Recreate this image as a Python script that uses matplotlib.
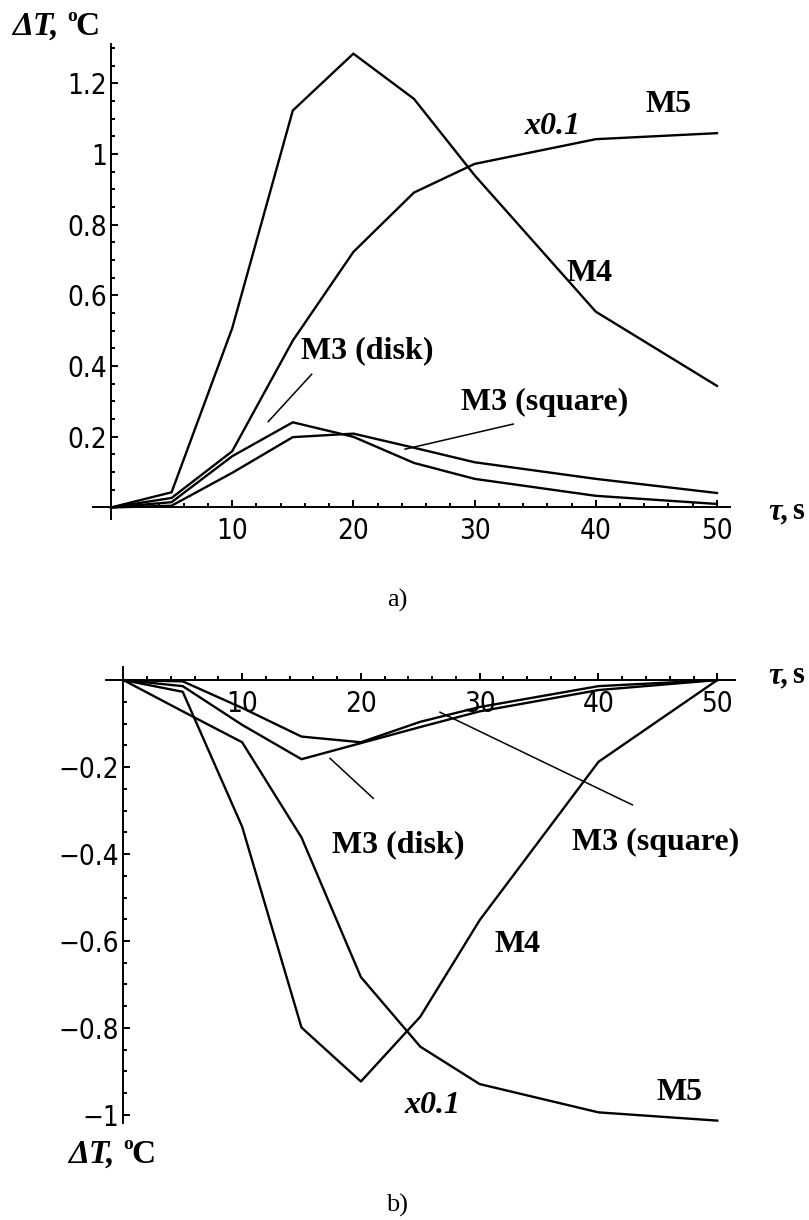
import matplotlib
matplotlib.use('Agg')
import matplotlib.pyplot as plt
from matplotlib import font_manager as fm
from matplotlib.ticker import MultipleLocator, FuncFormatter

# tick labels in the reference use a narrow sans; pick one if installed
narrow = None
for f in fm.fontManager.ttflist:
    cond = str(f.stretch) in ('condensed', 'semi-condensed', 'extra-condensed', 'ultra-condensed') \
        or (isinstance(f.stretch, int) and f.stretch < 500)
    if ('Narrow' in f.name or cond) and f.style == 'normal' and f.weight in (400, 'normal', 'regular'):
        if narrow is None or 'Liberation' in f.name:
            narrow = f
if narrow is not None:
    plt.rcParams['font.family'] = [narrow.name, 'DejaVu Sans']
    plt.rcParams['font.stretch'] = narrow.stretch
    tick_size = 20
else:
    plt.rcParams['font.family'] = ['DejaVu Sans']
    tick_size = 17

tau = [0, 5, 10, 15, 20, 25, 30, 40, 50]

# a) heating
m4_a = [0, 0.043, 0.507, 1.123, 1.284, 1.156, 0.94, 0.554, 0.344]
m5_a = [0, 0.027, 0.159, 0.472, 0.723, 0.891, 0.972, 1.042, 1.059]   # x0.1
disk_a = [0, 0.015, 0.145, 0.241, 0.200, 0.126, 0.081, 0.033, 0.010]
square_a = [0, 0.005, 0.098, 0.199, 0.209, 0.169, 0.128, 0.081, 0.041]

# b) cooling
m4_b = [0, -0.027, -0.337, -0.799, -0.923, -0.774, -0.552, -0.188, 0]
m5_b = [0, -0.072, -0.143, -0.362, -0.683, -0.843, -0.929, -0.994, -1.013]  # x0.1
disk_b = [0, -0.014, -0.103, -0.182, -0.145, -0.108, -0.072, -0.023, 0]
square_b = [0, -0.003, -0.064, -0.130, -0.143, -0.096, -0.062, -0.014, 0]

W, H = 809, 1220
fig = plt.figure(figsize=(W / 100, H / 100), dpi=100)


def box(x0, y0, x1, y1):
    # pixel box -> figure fraction
    return [x0 / W, 1 - y1 / H, (x1 - x0) / W, (y1 - y0) / H]


def fmt(v, _):
    if abs(v) < 1e-9:
        return ''
    return ('%g' % round(v, 3)).replace('-', '\u2212')


def style(ax):
    for s in ('top', 'right'):
        ax.spines[s].set_visible(False)
    for s in ('left', 'bottom'):
        ax.spines[s].set_position(('data', 0))
        ax.spines[s].set_linewidth(1.4)
    ax.patch.set_visible(False)
    ax.xaxis.set_major_locator(MultipleLocator(10))
    ax.xaxis.set_minor_locator(MultipleLocator(2))
    ax.yaxis.set_major_locator(MultipleLocator(0.2))
    ax.yaxis.set_minor_locator(MultipleLocator(0.05))
    ax.xaxis.set_major_formatter(FuncFormatter(fmt))
    ax.yaxis.set_major_formatter(FuncFormatter(fmt))
    ax.tick_params(which='both', direction='in', width=1.4, labelsize=tick_size)
    ax.tick_params(which='major', length=5)
    ax.tick_params(which='minor', length=3)
    ax.tick_params(axis='x', pad=7)
    ax.tick_params(axis='y', pad=3)


lab = dict(family='Liberation Serif', fontweight='bold', fontsize=23,
           ha='center', va='baseline')

# ---- a) ----
ax1 = fig.add_axes(box(92.8, 44.1, 730.3, 518.8))
ax1.set_xlim(-1.5, 51.1)
ax1.set_ylim(-0.032, 1.311)
style(ax1)
for ys in (m4_a, m5_a, disk_a, square_a):
    ax1.plot(tau, ys, color='black', lw=1.7, clip_on=False)
ax1.plot([16.56, 12.98], [0.377, 0.243], color='black', lw=1.1)
ax1.plot([33.19, 24.26], [0.236, 0.165], color='black', lw=1.1)
ax1.text(45.96, 1.119, 'M5', **lab)
ax1.text(36.39, 1.057, 'x0.1', style='italic', **lab)
ax1.text(39.52, 0.641, 'M4', **lab)
ax1.text(21.12, 0.423, 'M3 (disk)', **lab)
ax1.text(35.81, 0.276, 'M3 (square)', **lab)

# ---- b) ----
ax2 = fig.add_axes(box(106.1, 667, 735.1, 1122.8))
ax2.set_xlim(-1.45, 51.5)
ax2.set_ylim(-1.018, 0.03)
style(ax2)
for ys in (m4_b, m5_b, disk_b, square_b):
    ax2.plot(tau, ys, color='black', lw=1.7, clip_on=False)
ax2.plot([17.40, 21.04], [-0.180, -0.272], color='black', lw=1.1)
ax2.plot([26.66, 42.85], [-0.074, -0.287], color='black', lw=1.1)
ax2.text(23.12, -0.395, 'M3 (disk)', **lab)
ax2.text(44.84, -0.391, 'M3 (square)', **lab)
ax2.text(33.22, -0.625, 'M4', **lab)
ax2.text(46.86, -0.966, 'M5', **lab)
ax2.text(25.98, -0.995, 'x0.1', style='italic', **lab)


def ftext(px, py, s, **kw):
    fig.text(px / W, 1 - py / H, s, **kw)


serif = dict(family='Liberation Serif', fontweight='bold', va='baseline', ha='left')


def dt_label(px, py):
    ftext(px, py, '\u0394T,', style='italic', fontsize=24, **serif)
    ftext(px + 55, py - 14, 'o', fontsize=14, **serif)
    ftext(px + 63, py, 'C', fontsize=24, **serif)


def tau_label(px, py):
    ftext(px, py, '\u03c4,', style='italic', fontsize=22, **serif)
    ftext(px + 24, py, 's', fontsize=22, **serif)


dt_label(12, 35)
dt_label(68, 1163)
tau_label(768, 519)
tau_label(768, 683)
ftext(397, 607, 'a)', family='Liberation Serif', fontsize=19, ha='center', va='baseline')
ftext(397, 1212, 'b)', family='Liberation Serif', fontsize=19, ha='center', va='baseline')

fig.savefig('out.png', dpi=100)
